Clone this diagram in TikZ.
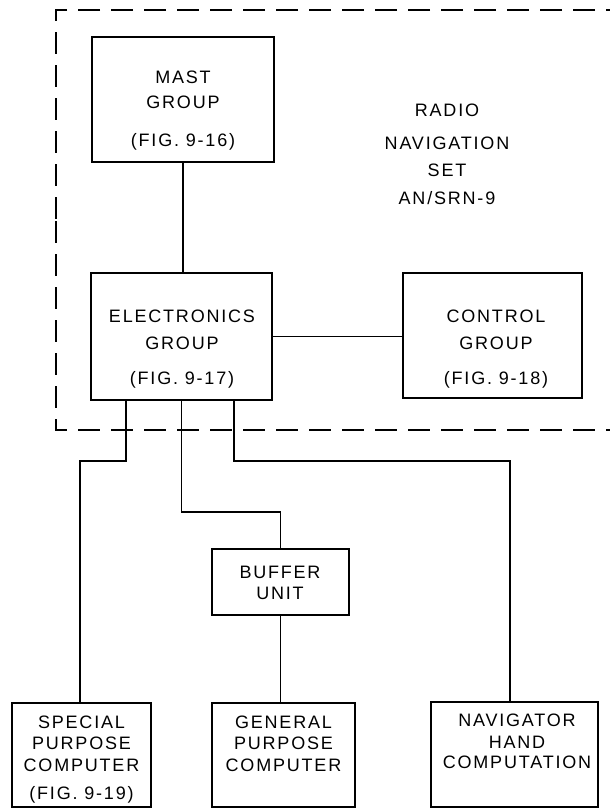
\documentclass[tikz,border=0pt]{standalone}
\usepackage{fontspec}
\setmainfont{Liberation Sans}[LetterSpace=10]
\begin{document}
\begin{tikzpicture}[x=1pt,y=-1pt,line width=1.8pt,
    unit/.style={draw,rectangle,inner sep=0pt},
    lbl/.style={inner sep=0pt,align=center,font=\fontsize{18}{25}\selectfont},
    frame/.style={line width=1.8pt,dash pattern=on 22pt off 11pt}]
  \useasboundingbox (0,0) rectangle (610,809);
  % dashed outline of the set
  \draw[frame,dash phase=8pt] (620,10) -- (56,10) -- (56,220);
  \draw[frame,dash phase=32pt] (56,220) -- (56,430) -- (620,430);
  % units
  \node[unit,minimum width=182pt,minimum height=125pt] (mast) at (183,99.5) {};
  \node[unit,minimum width=181pt,minimum height=127pt] (elec) at (181.5,336.5) {};
  \node[unit,minimum width=179pt,minimum height=125pt] (ctrl) at (492.5,335.5) {};
  \node[unit,minimum width=137pt,minimum height=66pt] (buf) at (280.5,582) {};
  \node[unit,minimum width=139pt,minimum height=104pt] (spc) at (81.5,755) {};
  \node[unit,minimum width=143pt,minimum height=104pt] (gen) at (283.5,755) {};
  \node[unit,minimum width=167pt,minimum height=105pt] (nav) at (514.5,754.5) {};
  % texts
  \node[lbl] (mastlbl) at (183,110.7) {MAST\\GROUP\\[13pt](FIG. 9-16)};
  \node[lbl] (eleclbl) at (182,348.9) {ELECTRONICS\\[2pt]GROUP\\[10pt](FIG. 9-17)};
  \node[lbl] (ctrllbl) at (496,348.9) {CONTROL\\[2pt]GROUP\\[10pt](FIG. 9-18)};
  \node[lbl] (setlbl) at (447,154) {RADIO\\[8pt]NAVIGATION\\[2pt]SET\\[3pt]AN/SRN-9};
  \node[lbl] (buflbl) at (280,582.5) {BUFFER\\[-4pt]UNIT};
  \node[lbl] (spclbl) at (81.5,759.4) {SPECIAL\\[-4pt]PURPOSE\\[-3pt]COMPUTER\\[3pt](FIG. 9-19)};
  \node[lbl] (genlbl) at (283.5,743.5) {GENERAL\\[-4pt]PURPOSE\\[-3pt]COMPUTER};
  \node[lbl] (navlbl) at (517,740.9) {NAVIGATOR\\[-3pt]HAND\\[-5pt]COMPUTATION};
  % connections
  \draw (mast.south) -- (mast.south |- elec.north);
  \draw (elec.east) -- (elec.east -| ctrl.west);
  \draw ([xshift=-55.5pt]elec.south) -- ++(0,60) -| ([xshift=-1.5pt]spc.north);
  \draw (elec.south) -- ++(0,111) -| (buf.north);
  \draw ([xshift=52.5pt]elec.south) -- ++(0,60) -| ([xshift=-4.5pt]nav.north);
  \draw (buf.south) -- (buf.south |- gen.north);
\end{tikzpicture}
\end{document}
